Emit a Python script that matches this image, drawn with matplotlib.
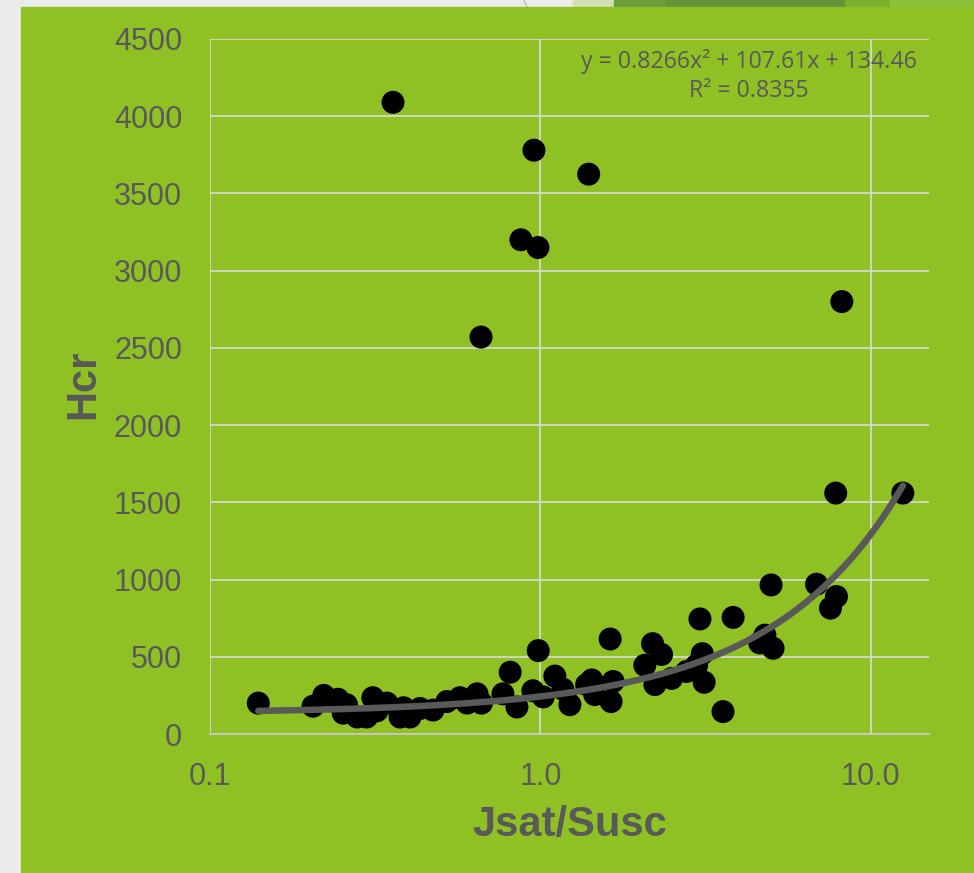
import matplotlib
matplotlib.use("Agg")
import matplotlib.pyplot as plt
import numpy as np
from matplotlib.patches import Rectangle
from matplotlib.ticker import FixedLocator, FixedFormatter, NullLocator

# ---- data -------------------------------------------------------------
jsat_susc = [
    0.140, 0.205, 0.221, 0.244, 0.259, 0.253, 0.279, 0.298, 0.311, 0.320,
    0.343, 0.376, 0.385, 0.403, 0.432, 0.473, 0.521, 0.571, 0.600, 0.643,
    0.663, 0.770, 0.810, 0.849, 0.949, 0.985, 1.02, 1.106, 1.17, 1.228,
    1.38, 1.43, 1.46, 1.626, 1.636, 1.66, 2.07, 2.185, 2.22, 2.326,
    2.495, 2.77, 2.97, 3.04, 3.09, 3.13, 3.57, 3.83, 4.61, 4.78,
    4.99, 5.06, 6.85, 7.55, 7.87,
    0.358, 0.956, 1.40, 0.873, 0.983, 0.661, 8.17, 7.83, 12.5,
]
hcr = [
    200, 180, 250, 225, 190, 135, 110, 110, 235, 150,
    200, 110, 170, 110, 165, 155, 210, 235, 200, 260,
    200, 260, 400, 175, 280, 540, 240, 375, 290, 190,
    320, 350, 255, 615, 210, 340, 445, 585, 320, 515,
    360, 405, 445, 745, 520, 335, 145, 755, 590, 640,
    965, 555, 970, 815, 890,
    4090, 3780, 3625, 3200, 3150, 2570, 2800, 1560, 1560,
]

# polynomial trendline coefficients (a x^2 + b x + c)
trend_a, trend_b, trend_c = 0.8266, 107.61, 134.46
trend_label = "y = 0.8266x² + 107.61x + 134.46\nR² = 0.8355"

x_ticks = [0.1, 1.0, 10.0]
x_tick_labels = ["0.1", "1.0", "10.0"]
y_ticks = list(range(0, 4501, 500))

# ---- figure ------------------------------------------------------------
W, H = 974, 873
fig = plt.figure(figsize=(W / 100, H / 100), dpi=100, facecolor="#EBEBEB")

def px(x, y):
    """pixel (from top-left) -> figure fraction"""
    return x / W, 1 - y / H

# decorative strip along the top edge
for x0, x1, col in [(573, 614, "#D3DFB5"), (614, 666, "#6C9C3E"),
                    (666, 845, "#64953A"), (845, 890, "#7BAF30"),
                    (890, 974, "#8EC13B")]:
    fig.patches.append(Rectangle(px(x0, 7), (x1 - x0) / W, 7 / H,
                                 transform=fig.transFigure, color=col, zorder=-2))
fig.add_artist(plt.Line2D([524 / W, 527 / W], [1, 1 - 7 / H],
                          transform=fig.transFigure, color="#B0B0B0", lw=0.8,
                          zorder=-2))

# green panel
fig.patches.append(Rectangle((21 / W, 0), (W - 21) / W, (H - 7) / H,
                             transform=fig.transFigure, color="#8FC124", zorder=-1))

left, right, top, bottom = 210, 929, 39, 734
ax = fig.add_axes([left / W, 1 - bottom / H, (right - left) / W, (bottom - top) / H])
ax.set_zorder(2)
ax.set_facecolor("none")

ax.set_xscale("log")
ax.set_xlim(0.1, 15)
ax.set_ylim(0, 4500)

grid_col = "#DADADA"
ax.xaxis.set_major_locator(FixedLocator(x_ticks))
ax.xaxis.set_major_formatter(FixedFormatter(x_tick_labels))
ax.xaxis.set_minor_locator(NullLocator())
ax.set_yticks(y_ticks)
ax.grid(True, color=grid_col, lw=1.2)
ax.set_axisbelow(True)
for s in ["top", "right", "left"]:
    ax.spines[s].set_visible(False)
ax.spines["bottom"].set_color("#C8C8C8")
ax.spines["bottom"].set_linewidth(1.3)

ax.tick_params(length=0, pad=20, labelsize=22, labelcolor="#595959")
for lab in ax.get_xticklabels() + ax.get_yticklabels():
    lab.set_fontfamily("Liberation Sans")

# points
ax.scatter(jsat_susc, hcr, s=274, color="black", edgecolors="none",
           zorder=3, clip_on=False)

# trendline over the data range
xs = np.logspace(np.log10(min(jsat_susc)), np.log10(max(jsat_susc)), 300)
ax.plot(xs, trend_a * xs**2 + trend_b * xs + trend_c, color="#595959",
        lw=4.7, solid_capstyle="round", zorder=4)

# trendline equation
fig.text(*px(749, 76), trend_label, ha="center", va="center",
         multialignment="center", fontsize=16.7, family="Open Sans",
         color="#595959", linespacing=1.3, zorder=5)

# axis titles
fig.text(*px(570, 836), "Jsat/Susc", ha="center", va="baseline",
         fontsize=30, fontweight="bold", family="Liberation Sans", color="#595959")
fig.text(*px(94, 384), "Hcr", ha="center", va="baseline", rotation=90,
         rotation_mode="anchor", fontsize=30, fontweight="bold",
         family="Liberation Sans", color="#595959")

fig.savefig("out.png", dpi=100, facecolor=fig.get_facecolor())
